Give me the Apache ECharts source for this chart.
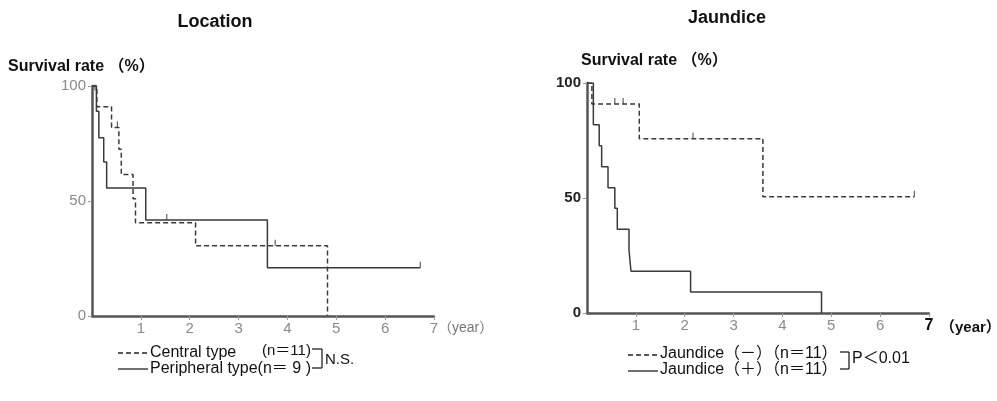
<!DOCTYPE html>
<html><head><meta charset="utf-8">
<script src="https://cdn.jsdelivr.net/npm/echarts@6/dist/echarts.min.js"></script>
<style>html,body{margin:0;padding:0;background:#fff}#c{width:997px;height:401px}</style>
</head><body><div id="c"></div>
<script>
// ---- data ----
const titles = ['Location', 'Jaundice'];
const yTicks = [0, 50, 100];
const xTicks = [1, 2, 3, 4, 5, 6, 7];
// Left: Location
const centralT = [0, 0.1, 0.4, 0.55, 0.6, 0.84, 0.89, 2.12, 4.82];
const centralS = [100, 91, 82, 72.5, 61.5, 51, 40.5, 30.5, 0];
const centralCensT = [0.06, 0.52, 3.75];
const centralCensS = [98, 82, 30.5];
const periphT = [0, 0.09, 0.14, 0.24, 0.3, 1.1, 3.59, 6.72];
const periphS = [100, 89, 77.5, 67, 55.6, 41.7, 21, 21];
const periphCensT = [1.53, 6.72];
const periphCensS = [41.7, 21];
// Right: Jaundice
const jNegT = [0, 0.1, 1.07, 3.6, 6.7];
const jNegS = [100, 90.9, 75.8, 50.5, 50.5];
const jNegCensT = [0.57, 0.74, 2.17, 6.7];
const jNegCensS = [90.9, 90.9, 75.8, 50.5];
const jPosT = [0, 0.13, 0.25, 0.3, 0.43, 0.57, 0.62, 0.86, 0.9, 2.12, 4.8];
const jPosS = [100, 81.8, 72.7, 63.6, 54.5, 45.5, 36.4, 27.3, 18.2, 9.1, 0];
const legendL = ['Central type', '(n＝11)', 'Peripheral type(n＝ 9 )', 'N.S.'];
const legendR = ['Jaundice（－）（n＝11）', 'Jaundice（＋）（n＝11）', 'P＜0.01'];
const yLabel = 'Survival rate （%）';
const yearLabel = '（year）';

const zip = (a, b) => a.map((v, i) => [v, b[i]]);
const FONT = '"Liberation Sans Narrow", "Liberation Sans", Arial, sans-serif';
const SANS = '"Liberation Sans", Arial, "Noto Sans CJK JP", sans-serif';
const LINE = '#3a3a3a';

function xAxis(gi, right) {
  return {
    type: 'value', gridIndex: gi, min: 0, max: 7, interval: 1,
    axisLine: { show: true, onZero: false, lineStyle: { color: '#555', width: 2.5 } },
    axisTick: { show: true, length: 4, inside: false, lineStyle: { color: '#999' } },
    splitLine: { show: false },
    axisLabel: {
      margin: 5, fontSize: 15, color: '#8a8a8a', fontFamily: FONT,
      showMinLabel: false,
      formatter: v => (v === 0 ? '' : (right && v === 7 ? '{b|7}' : String(v))),
      rich: { b: { fontSize: 16, fontWeight: 'bold', color: '#111', fontFamily: SANS } }
    }
  };
}
function yAxis(gi, right) {
  return {
    type: 'value', gridIndex: gi, min: 0, max: 100, interval: 50,
    axisLine: { show: true, onZero: false, lineStyle: { color: '#555', width: 2.5 } },
    axisTick: { show: true, length: 4, lineStyle: { color: '#999' } },
    splitLine: { show: false },
    axisLabel: {
      margin: 6, fontSize: 15, fontFamily: FONT,
      color: right ? '#222' : '#8a8a8a', fontWeight: right ? 'bold' : 'normal'
    }
  };
}
function step(name, gi, data, dashed) {
  return {
    name, type: 'line', xAxisIndex: gi, yAxisIndex: gi, step: 'end',
    data, symbol: 'none', animation: false,
    lineStyle: { color: LINE, width: 1.5, type: dashed ? [5, 3] : 'solid' }
  };
}
function cens(gi, data) {
  return {
    type: 'scatter', xAxisIndex: gi, yAxisIndex: gi, data, animation: false,
    symbol: 'rect', symbolSize: [1.2, 6], symbolOffset: [0, -3],
    itemStyle: { color: LINE }, silent: true
  };
}

const txt = (x, y, text, o) => ({ type: 'text', x, y, style: Object.assign({ text, fontFamily: SANS, fontSize: 15, fill: '#111', textVerticalAlign: 'middle' }, o || {}) });
const seg = (x1, y1, x2, y2, dashed) => ({ type: 'line', shape: { x1, y1, x2, y2 }, style: { stroke: '#222', lineWidth: 1.3, lineDash: dashed ? [5, 3] : null } });

const chart = echarts.init(document.getElementById('c'), null, { renderer: 'canvas' });
chart.setOption({
  animation: false,
  backgroundColor: '#fff',
  grid: [
    { left: 92, top: 86, width: 342, height: 230 },
    { left: 587, top: 83, width: 342, height: 230 }
  ],
  xAxis: [xAxis(0, false), xAxis(1, true)],
  yAxis: [yAxis(0, false), yAxis(1, true)],
  series: [
    step('Central type', 0, zip(centralT, centralS), true),
    step('Peripheral type', 0, zip(periphT, periphS), false),
    cens(0, zip(centralCensT, centralCensS)),
    cens(0, zip(periphCensT, periphCensS)),
    step('Jaundice(−)', 1, zip(jNegT, jNegS), true),
    step('Jaundice(+)', 1, zip(jPosT, jPosS), false),
    cens(1, zip(jNegCensT, jNegCensS))
  ],
  graphic: [
    txt(215, 22, titles[0], { fontSize: 18, fontWeight: 'bold', textAlign: 'center' }),
    txt(727, 18, titles[1], { fontSize: 18, fontWeight: 'bold', textAlign: 'center' }),
    txt(8, 67, yLabel, { fontSize: 16, fontWeight: 'bold' }),
    txt(581, 61, yLabel, { fontSize: 16, fontWeight: 'bold' }),
    txt(438, 328, yearLabel, { fontSize: 14, fill: '#777' }),
    txt(940, 328, yearLabel, { fontSize: 15, fontWeight: 'bold' }),
    // left legend
    seg(118, 353, 148, 353, true),
    txt(150, 353, legendL[0], { fontSize: 16 }),
    txt(262, 351, legendL[1], { fontSize: 15 }),
    seg(118, 369, 148, 369, false),
    txt(150, 369, legendL[2], { fontSize: 16 }),
    seg(312, 349, 322, 349), seg(322, 349, 322, 368), seg(312, 368, 322, 368),
    txt(325, 360, legendL[3], { fontSize: 15 }),
    // right legend
    seg(628, 355, 658, 355, true),
    txt(660, 354, legendR[0], { fontSize: 16 }),
    seg(628, 371, 658, 371, false),
    txt(660, 370, legendR[1], { fontSize: 16 }),
    seg(840, 352, 849, 352), seg(849, 352, 849, 369), seg(840, 369, 849, 369),
    txt(852, 359, legendR[2], { fontSize: 16 })
  ]
});
</script></body></html>
